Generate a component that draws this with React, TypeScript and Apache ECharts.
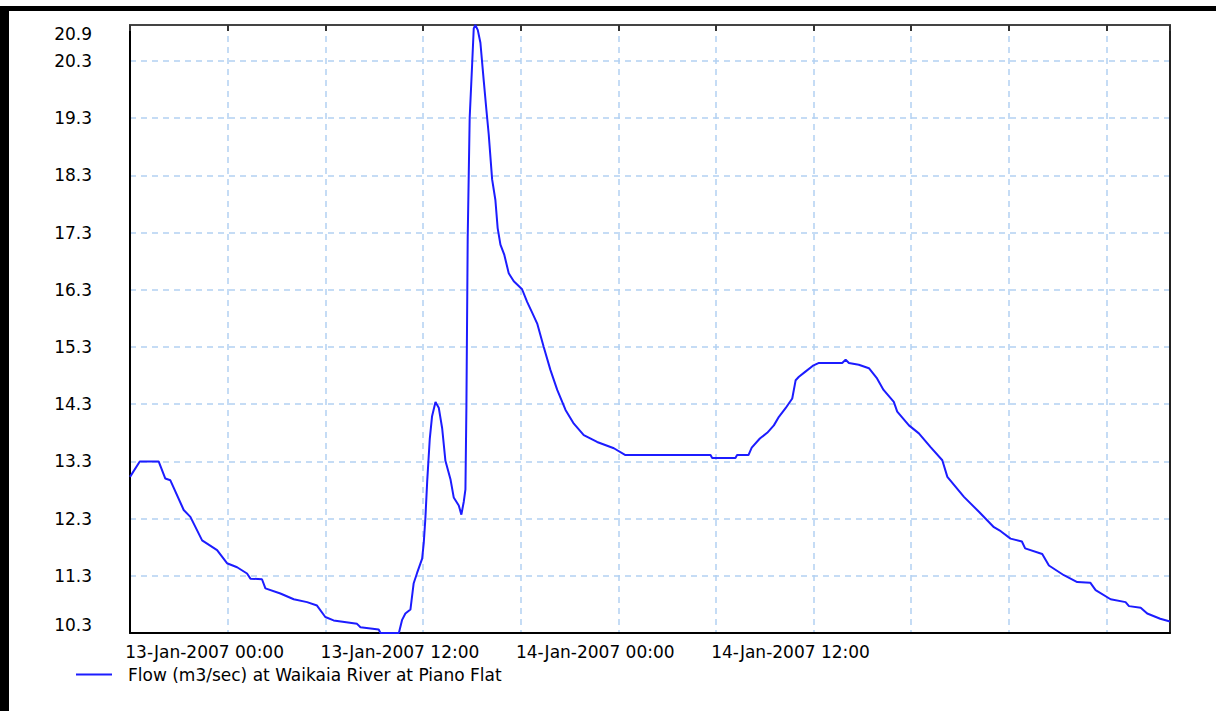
import React, { useEffect, useRef } from "react";
import * as echarts from "echarts";

// Hours since 13-Jan-2007 00:00
const hours = [
  -6, -5.4, -4.24, -3.83, -3.52, -2.7, -2.29, -1.57, -0.65, -0.04,
  0.58, 1.19, 1.4, 2.11, 2.32, 3.24, 4.06, 4.88, 5.49, 6.0,
  6.51, 7.95, 8.16, 9.28, 9.39, 10.52, 10.72, 10.92, 11.23, 11.43,
  11.64, 11.95, 12.05, 12.15, 12.26, 12.42, 12.56, 12.77, 12.97, 13.18,
  13.38, 13.69, 13.89, 14.2, 14.36, 14.51, 14.61, 14.67, 14.75, 14.87,
  15.02, 15.12, 15.22, 15.37, 15.53, 15.74, 15.9, 16.04, 16.25, 16.45,
  16.59, 16.76, 17.0, 17.27, 17.58, 18.09, 18.4, 18.71, 19.02, 19.42,
  19.83, 20.25, 20.76, 21.27, 21.88, 22.7, 23.73, 24.44, 29.67, 29.77,
  31.2, 31.3, 32.0, 32.2, 32.7, 33.15, 33.56, 33.87, 34.28, 34.69,
  34.9, 35.1, 35.5, 36.0, 36.3, 37.76, 37.97, 38.17, 38.78, 39.4,
  39.9, 40.3, 40.93, 41.14, 41.86, 42.47, 43.19, 43.91, 44.22, 45.24,
  46.16, 47.08, 47.5, 48.1, 48.8, 49.0, 50.05, 50.46, 51.38, 52.2,
  53.0, 53.33, 54.25, 55.17, 55.38, 56.1, 56.5, 57.3, 57.9,
];

// Flow (m3/sec)
const flow = [
  13.03, 13.3, 13.3, 13.0, 12.97, 12.45, 12.33, 11.92, 11.75, 11.52,
  11.45, 11.34, 11.25, 11.24, 11.08, 10.99, 10.89, 10.84, 10.78, 10.58,
  10.52, 10.46, 10.4, 10.36, 10.3, 10.3, 10.53, 10.64, 10.71, 11.17,
  11.35, 11.6, 11.88, 12.31, 12.95, 13.7, 14.09, 14.34, 14.24, 13.88,
  13.31, 12.99, 12.67, 12.53, 12.37, 12.6, 12.81, 14.27, 17.23, 19.3,
  20.23, 20.87, 20.93, 20.84, 20.62, 19.94, 19.44, 19.02, 18.23, 17.87,
  17.38, 17.09, 16.91, 16.59, 16.45, 16.31, 16.09, 15.9, 15.71, 15.3,
  14.9, 14.55, 14.2, 13.96, 13.76, 13.64, 13.53, 13.41, 13.41, 13.36,
  13.36, 13.41, 13.41, 13.54, 13.7, 13.8, 13.93, 14.08, 14.23, 14.4,
  14.72, 14.78, 14.87, 14.98, 15.02, 15.02, 15.08, 15.02, 14.99, 14.93,
  14.75, 14.55, 14.34, 14.17, 13.93, 13.79, 13.55, 13.32, 13.03, 12.68,
  12.42, 12.15, 12.08, 11.95, 11.9, 11.78, 11.68, 11.48, 11.31, 11.19,
  11.18, 11.05, 10.89, 10.84, 10.77, 10.74, 10.64, 10.55, 10.5,
];

const xLabelHours = [0, 12, 24, 36];
const xLabelTexts = [
  "13-Jan-2007 00:00",
  "13-Jan-2007 12:00",
  "14-Jan-2007 00:00",
  "14-Jan-2007 12:00",
];

const seriesName = "Flow (m3/sec) at Waikaia River at Piano Flat";

const X_MIN = -6;
const X_MAX = 57.9;
const X_STEP = 6;
const Y_MIN = 10.3;
const Y_MAX = 20.93;
const Y_STEP = 1;

export default function App() {
  const ref = useRef<HTMLDivElement>(null);

  useEffect(() => {
    document.body.style.margin = "0";
    const chart = echarts.init(ref.current as HTMLDivElement, null, {
      renderer: "svg",
    });
    const font = "DejaVu Sans";
    const gridColor = "#b3d1f2";
    const lineColor = "#1c1cff";
    const splitStyle = { color: gridColor, type: [6, 5], width: 1.5 };

    const option: any = {
      animation: false,
      backgroundColor: "#ffffff",
      grid: {
        left: 130,
        top: 25,
        right: 46,
        bottom: 78,
        show: false,
      },
      legend: {
        show: true,
        left: 76,
        top: 666,
        padding: 0,
        icon: "rect",
        itemWidth: 36,
        itemHeight: 2,
        textStyle: {
          fontFamily: font,
          fontSize: 17,
          color: "#000",
          padding: [0, 0, 0, 11],
        },
        data: [seriesName],
      },
      xAxis: [
        {
          type: "value",
          min: X_MIN,
          max: X_MAX,
          interval: X_STEP,
          position: "bottom",
          axisLine: {
            show: true,
            onZero: false,
            lineStyle: { color: "#000", width: 2 },
          },
          axisTick: { show: false },
          splitLine: {
            show: true,
            showMinLine: false,
            showMaxLine: false,
            lineStyle: splitStyle,
          },
          axisLabel: {
            show: true,
            margin: 10,
            fontFamily: font,
            fontSize: 17,
            color: "#000",
            padding: [0, 46, 0, 0],
            showMinLabel: true,
            showMaxLabel: false,
            formatter: (v: number) => {
              const idx = xLabelHours.findIndex((h) => Math.abs(h - v) < 1e-6);
              return idx >= 0 ? xLabelTexts[idx] : "";
            },
          },
          z: 3,
        },
        {
          type: "value",
          min: X_MIN,
          max: X_MAX,
          interval: X_STEP,
          position: "top",
          axisLine: {
            show: true,
            onZero: false,
            lineStyle: { color: "#444", width: 2 },
          },
          axisTick: {
            show: true,
            inside: true,
            length: 6,
            lineStyle: { color: "#333", width: 2 },
          },
          axisLabel: { show: false },
          splitLine: { show: false },
          z: 3,
        },
      ],
      yAxis: [
        {
          type: "value",
          min: Y_MIN,
          max: Y_MAX,
          interval: Y_STEP,
          position: "left",
          axisLine: {
            show: true,
            onZero: false,
            lineStyle: { color: "#000", width: 2 },
          },
          axisTick: { show: false },
          splitLine: {
            show: true,
            showMinLine: false,
            showMaxLine: false,
            lineStyle: splitStyle,
          },
          axisLabel: {
            margin: 38,
            fontFamily: font,
            fontSize: 17,
            color: "#000",
            showMinLabel: true,
            showMaxLabel: true,
            verticalAlignMinLabel: "bottom",
            verticalAlignMaxLabel: "top",
            formatter: (v: number) => v.toFixed(1),
          },
          z: 3,
        },
        {
          type: "value",
          min: Y_MIN,
          max: Y_MAX,
          interval: Y_STEP,
          position: "right",
          axisLine: {
            show: true,
            onZero: false,
            lineStyle: { color: "#222", width: 2 },
          },
          axisTick: { show: false },
          axisLabel: { show: false },
          splitLine: { show: false },
          z: 3,
        },
      ],
      series: [
        {
          type: "line",
          name: seriesName,
          xAxisIndex: 0,
          yAxisIndex: 0,
          data: hours.map((h, i) => [h, flow[i]]),
          symbol: "none",
          color: lineColor,
          lineStyle: { color: lineColor, width: 2 },
          itemStyle: { color: lineColor },
        },
      ],
      graphic: [
        {
          type: "rect",
          shape: { x: 0, y: 6, width: 1216, height: 5 },
          style: { fill: "#000" },
          silent: true,
        },
        {
          type: "rect",
          shape: { x: 0, y: 6, width: 9, height: 705 },
          style: { fill: "#000" },
          silent: true,
        },
      ],
    };

    chart.setOption(option);
    return () => {
      chart.dispose();
    };
  }, []);

  return (
    <div
      ref={ref}
      style={{
        position: "absolute",
        left: 0,
        top: 0,
        width: 1216,
        height: 711,
      }}
    />
  );
}
